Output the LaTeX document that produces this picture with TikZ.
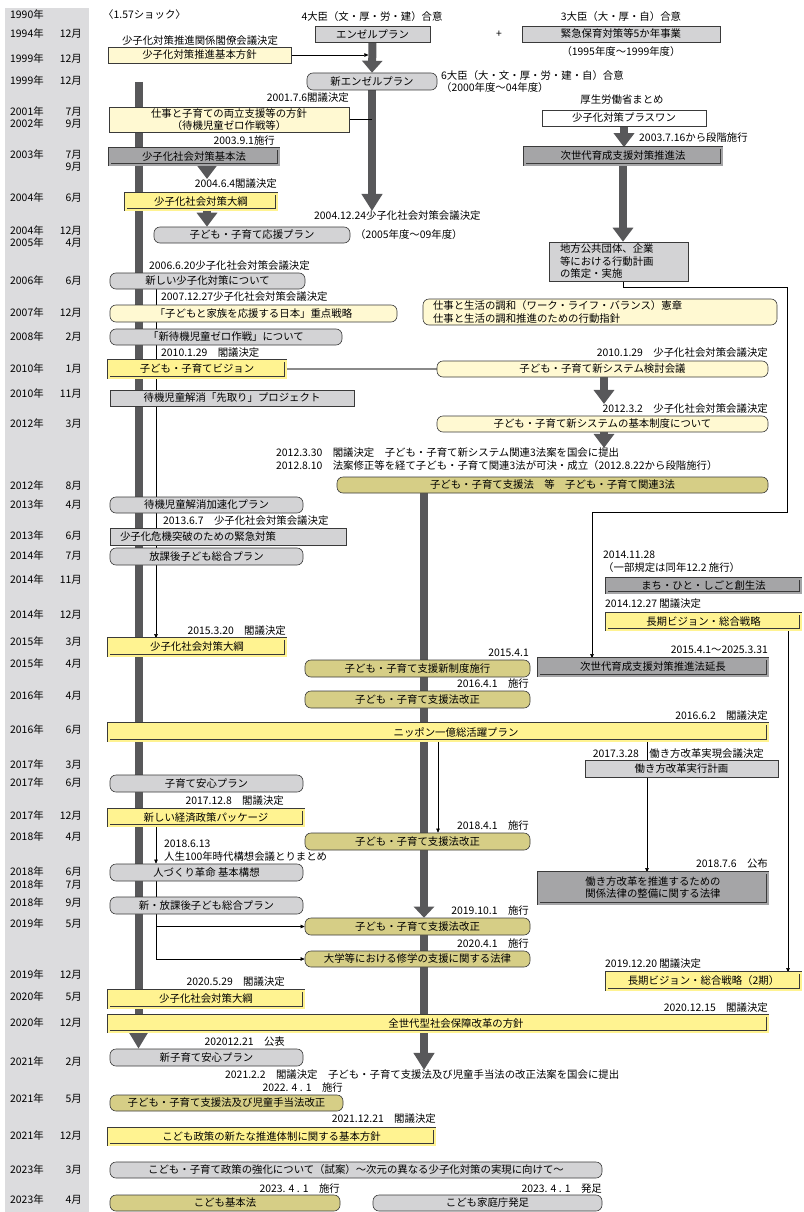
\documentclass[tikz,border=0pt]{standalone}
\usepackage{fontspec}
\setmainfont{Noto Sans CJK JP}
\usetikzlibrary{arrows.meta,backgrounds}

\definecolor{cyear}{HTML}{DCDCDE}
\definecolor{cbar}{HTML}{58585A}
\definecolor{cline}{HTML}{3A3A3A}
\definecolor{cgray}{HTML}{D3D3D5}
\definecolor{cdark}{HTML}{A5A5A7}
\definecolor{clight}{HTML}{FFF9D2}
\definecolor{cyel}{HTML}{FFF391}
\definecolor{colive}{HTML}{D6CE86}
\definecolor{clink}{HTML}{8A8A8A}

\begin{document}
\begin{tikzpicture}
    [x=1pt, y=-1pt, font=\fontsize{10.4}{12.5}\selectfont,
    lbl/.style={inner sep=0pt},
    sqbox/.style={draw=cline, line width=0.6pt, fill=#1, inner sep=0pt},
    rbox/.style={sqbox=#1, rounded corners=6pt},
    dbox/.style={draw=cline, line width=0.6pt, double=#1, double distance=2pt, fill=#1, inner sep=0pt},
    bigarrow/.style={line width=8pt, cbar, -{Triangle[width=20pt,length=14pt]}},
    thinline/.style={line width=0.6pt, black},
    thinarrow/.style={thinline, -{Triangle[width=3.6pt,length=4.2pt]}},
    linkline/.style={line width=1.3pt, clink}]

    \useasboundingbox (0,0) rectangle (803,1212);

    % columns the connectors run along
    \coordinate (leftbar) at (138.5,0);
    \coordinate (thinL) at (156,0);
    \coordinate (midbar) at (424,0);
    \coordinate (workx) at (647,0);
    \coordinate (rightx) at (788,0);
    \coordinate (enchoIn) at (592,0);
    \coordinate (barTop) at (138.5,82);

    % --- year column ---
    \begin{scope}[on background layer]
        \fill[cyear] (5,8) rectangle (89,1212);
    \end{scope}
    \foreach \yy/\yr/\mo in {15/1990年/, 34/1994年/12月, 59/1999年/12月, 81/1999年/12月,
        112/2001年/7月, 124/2002年/9月, 155/2003年/7月, 167//9月, 198/2004年/6月,
        231/2004年/12月, 243/2005年/4月, 281/2006年/6月, 313/2007年/12月, 337/2008年/2月,
        369/2010年/1月, 394/2010年/11月, 424/2012年/3月, 486/2012年/8月, 505/2013年/4月,
        536/2013年/6月, 556/2014年/7月, 580/2014年/11月, 615/2014年/12月, 642/2015年/3月,
        664/2015年/4月, 696/2016年/4月, 730/2016年/6月, 765/2017年/3月, 783/2017年/6月,
        816/2017年/12月, 837/2018年/4月, 872/2018年/6月, 885/2018年/7月, 903/2018年/9月,
        924/2019年/5月, 975/2019年/12月, 997/2020年/5月, 1023/2020年/12月, 1062/2021年/2月,
        1099/2021年/5月, 1136/2021年/12月, 1170/2023年/3月, 1200/2023年/4月} {
        \node[lbl, anchor=west] (yr\yy) at (10,\yy) {\yr};
        \node[lbl, anchor=east] (mo\yy) at (82,\yy) {\mo};
    }

    % --- 1990s ---
    \node[lbl, anchor=west] (shock) at (103,15) {〈1.57ショック〉};
    \node[lbl] (d4daijin) at (372,17) {4大臣（文・厚・労・建）合意};
    \node[sqbox=cgray, minimum width=115pt, minimum height=16pt] (angel) at (372.5,34) {エンゼルプラン};
    \node[lbl] (plus) at (499,34) {+};
    \node[lbl] (d3daijin) at (621,17) {3大臣（大・厚・自）合意};
    \node[sqbox=cgray, minimum width=198pt, minimum height=16pt] (emerg) at (621,34) {緊急保育対策等5か年事業};
    \node[lbl] (emergyr) at (621,52) {（1995年度〜1999年度）};

    \node[lbl] (dkakuryo) at (200,41) {少子化対策推進関係閣僚会議決定};
    \node[sqbox=clight, minimum width=183pt, minimum height=16pt] (kihon) at (199.5,55) {少子化対策推進基本方針};
    \node[rbox=cgray, minimum width=130pt, minimum height=17pt] (newangel) at (372,81.5) {新エンゼルプラン};
    \node[lbl, anchor=west, align=left, font=\fontsize{10.4}{11.5}\selectfont] (d6daijin) at (441,81.5)
        {6大臣（大・文・厚・労・建・自）合意\\（2000年度〜04年度）};

    % --- 2001 to 2005 ---
    \node[lbl, anchor=east] (d010706) at (349,98) {2001.7.6閣議決定};
    \node[sqbox=clight, minimum width=240pt, minimum height=25pt, align=center] (ryoritsu) at (229,119.5)
        {仕事と子育ての両立支援等の方針\\（待機児童ゼロ作戦等）};
    \node[lbl, anchor=east] (d030901) at (275,141) {2003.9.1施行};
    \node[dbox=cdark, minimum width=169pt, minimum height=16pt] (kihonho) at (194,156.5) {少子化社会対策基本法};
    \node[lbl, anchor=east] (d040604) at (277,184) {2004.6.4閣議決定};
    \node[dbox=cyel, minimum width=151pt, minimum height=16pt] (taiko04) at (201,201.5) {少子化社会対策大綱};
    \node[lbl, anchor=west] (d041224) at (314,216) {2004.12.24少子化社会対策会議決定};
    \node[rbox=cgray, minimum width=196pt, minimum height=16pt] (ouen) at (252,235) {子ども・子育て応援プラン};
    \node[lbl, anchor=west] (ouenyr) at (355,235) {（2005年度〜09年度）};

    \node[lbl] (dkosei) at (622,100) {厚生労働省まとめ};
    \node[sqbox=white, minimum width=164pt, minimum height=16pt] (plusone) at (624,118) {少子化対策プラスワン};
    \node[lbl, anchor=west] (d030716) at (639,138) {2003.7.16から段階施行};
    \node[dbox=cdark, minimum width=197pt, minimum height=17pt] (jisedai) at (623,156) {次世代育成支援対策推進法};
    \node[sqbox=cgray, minimum width=139pt, minimum height=39pt, inner xsep=11pt, text width=117pt, align=left] (chiho) at (618.5,261.5)
        {地方公共団体、企業\\等における行動計画\\の策定・実施};

    % --- 2006 to 2012 ---
    \node[lbl, anchor=west] (d060620) at (149,266) {2006.6.20少子化社会対策会議決定};
    \node[rbox=cgray, minimum width=195pt, minimum height=16pt] (atarashii) at (207.5,281) {新しい少子化対策について};
    \node[lbl, anchor=west] (d071227) at (161,297) {2007.12.27少子化社会対策会議決定};
    \node[rbox=clight, minimum width=287pt, minimum height=17pt] (juten) at (253.5,313.5) {「子どもと家族を応援する日本」重点戦略};
    \node[rbox=clight, minimum width=354pt, minimum height=26pt, inner xsep=10pt, text width=334pt, align=left] (wlb) at (600,312)
        {仕事と生活の調和（ワーク・ライフ・バランス）憲章\\仕事と生活の調和推進のための行動指針};
    \node[rbox=cgray, minimum width=232pt, minimum height=16pt] (zero) at (226,337) {「新待機児童ゼロ作戦」について};
    \node[lbl, anchor=west] (d100129) at (161,353) {2010.1.29　閣議決定};
    \node[dbox=cyel, minimum width=177pt, minimum height=17pt] (vision) at (197,369) {子ども・子育てビジョン};
    \node[lbl, anchor=east] (d100129b) at (768,353) {2010.1.29　少子化社会対策会議決定};
    \node[rbox=clight, minimum width=331pt, minimum height=16pt] (kentou) at (602.5,369) {子ども・子育て新システム検討会議};
    \node[sqbox=cgray, minimum width=244pt, minimum height=16pt] (sakidori) at (232,398) {待機児童解消「先取り」プロジェクト};
    \node[lbl, anchor=east] (d120302) at (768,409) {2012.3.2　少子化社会対策会議決定};
    \node[rbox=clight, minimum width=331pt, minimum height=16pt] (seido) at (602.5,424) {子ども・子育て新システムの基本制度について};
    \node[lbl, anchor=west, align=left, font=\fontsize{10.4}{13}\selectfont] (d3hou) at (276,459.5)
        {2012.3.30　閣議決定　子ども・子育て新システム関連3法案を国会に提出\\2012.8.10　法案修正等を経て子ども・子育て関連3法が可決・成立（2012.8.22から段階施行）};
    \node[rbox=colive, minimum width=431pt, minimum height=16pt] (shienho) at (552.5,485) {子ども・子育て支援法　等　子ども・子育て関連3法};

    % --- 2013 to 2016 ---
    \node[rbox=cgray, minimum width=193pt, minimum height=16pt] (kasoku) at (206.5,505) {待機児童解消加速化プラン};
    \node[lbl, anchor=west] (d130607) at (163,521) {2013.6.7　少子化社会対策会議決定};
    \node[sqbox=cgray, minimum width=236pt, minimum height=17pt, inner xsep=10pt, text width=216pt, align=left] (kinkyu) at (228,536.5)
        {少子化危機突破のための緊急対策};
    \node[rbox=cgray, minimum width=193pt, minimum height=17pt] (houkago) at (206.5,556.5) {放課後子ども総合プラン};
    \node[lbl, anchor=west, align=left] (d141128) at (603,561.5) {2014.11.28\\（一部規定は同年12.2 施行）};
    \node[dbox=cdark, minimum width=194pt, minimum height=14pt] (machi) at (703.5,585.5) {まち・ひと・しごと創生法};
    \node[lbl, anchor=west] (d141227) at (605,604) {2014.12.27 閣議決定};
    \node[dbox=cyel, minimum width=194pt, minimum height=16pt] (choki) at (703.5,621.5) {長期ビジョン・総合戦略};
    \node[lbl, anchor=east] (d150320) at (286,631) {2015.3.20　閣議決定};
    \node[dbox=cyel, minimum width=177pt, minimum height=17pt] (taiko15) at (197,647) {少子化社会対策大綱};
    \node[lbl, anchor=east] (d150401) at (529,653) {2015.4.1};
    \node[rbox=colive, minimum width=225pt, minimum height=17pt] (shinseido) at (417.5,668.5) {子ども・子育て支援新制度施行};
    \node[lbl, anchor=east] (d150401b) at (768,650) {2015.4.1〜2025.3.31};
    \node[dbox=cdark, minimum width=229pt, minimum height=17pt] (encho) at (653,667) {次世代育成支援対策推進法延長};
    \node[lbl, anchor=east] (d160401) at (529,684) {2016.4.1　施行};
    \node[rbox=colive, minimum width=225pt, minimum height=17pt] (kaisei16) at (417.5,699.5) {子ども・子育て支援法改正};
    \node[lbl, anchor=east] (d160602) at (768,716) {2016.6.2　閣議決定};
    \node[dbox=cyel, minimum width=659pt, minimum height=17pt] (nippon) at (438,732) {\hspace*{36pt}ニッポン一億総活躍プラン};

    % --- 2017 to 2020 ---
    \node[lbl, anchor=east] (d170328) at (764,754) {2017.3.28　働き方改革実現会議決定};
    \node[sqbox=cgray, minimum width=193pt, minimum height=17pt] (jikko) at (681.5,768.5) {働き方改革実行計画};
    \node[rbox=cgray, minimum width=193pt, minimum height=17pt] (anshin) at (206.5,783.5) {子育て安心プラン};
    \node[lbl, anchor=east] (d171208) at (284,801) {2017.12.8　閣議決定};
    \node[dbox=cyel, minimum width=195pt, minimum height=16pt] (package) at (206,817.5) {新しい経済政策パッケージ};
    \node[lbl, anchor=east] (d180401) at (529,826) {2018.4.1　施行};
    \node[rbox=colive, minimum width=225pt, minimum height=17pt] (kaisei18) at (417.5,841.5) {子ども・子育て支援法改正};
    \node[lbl, anchor=west, align=left] (d180613) at (164,850.5) {2018.6.13\\人生100年時代構想会議とりまとめ};
    \node[rbox=cgray, minimum width=193pt, minimum height=17pt] (hitozukuri) at (206.5,872.5) {人づくり革命 基本構想};
    \node[lbl, anchor=east] (d180706) at (768,864) {2018.7.6　公布};
    \node[dbox=cdark, minimum width=229pt, minimum height=31pt, align=center, font=\fontsize{10.4}{12}\selectfont] (hoseibi) at (653,888)
        {働き方改革を推進するための\\関係法律の整備に関する法律};
    \node[rbox=cgray, minimum width=193pt, minimum height=17pt] (shinhoukago) at (206.5,905.5) {新・放課後子ども総合プラン};
    \node[lbl, anchor=east] (d191001) at (529,911) {2019.10.1　施行};
    \node[rbox=colive, minimum width=225pt, minimum height=17pt] (kaisei19) at (417.5,926.5) {子ども・子育て支援法改正};
    \node[lbl, anchor=east] (d200401) at (529,944) {2020.4.1　施行};
    \node[rbox=colive, minimum width=225pt, minimum height=16pt] (daigaku) at (417.5,959) {大学等における修学の支援に関する法律};
    \node[lbl, anchor=west] (d191220) at (605,964) {2019.12.20 閣議決定};
    \node[dbox=cyel, minimum width=194pt, minimum height=17pt] (choki2) at (703.5,981) {長期ビジョン・総合戦略（2期）};
    \node[lbl, anchor=east] (d200529) at (285,982) {2020.5.29　閣議決定};
    \node[dbox=cyel, minimum width=195pt, minimum height=17pt] (taiko20) at (206,999) {少子化社会対策大綱};
    \node[lbl, anchor=east] (d201215) at (768,1008) {2020.12.15　閣議決定};
    \node[dbox=cyel, minimum width=659pt, minimum height=16pt] (zensedai) at (438,1023.5) {\hspace*{36pt}全世代型社会保障改革の方針};

    % --- 2020 to 2023 ---
    \node[lbl, anchor=east] (d201221) at (285,1042) {202012.21　公表};
    \node[rbox=cgray, minimum width=193pt, minimum height=17pt] (shinanshin) at (206.5,1057.5) {新子育て安心プラン};
    \node[lbl, anchor=west] (d210202) at (225,1075) {2021.2.2　閣議決定　子ども・子育て支援法及び児童手当法の改正法案を国会に提出};
    \node[lbl, anchor=east] (d220401) at (343,1088) {2022. 4 . 1　施行};
    \node[rbox=colive, minimum width=233pt, minimum height=16pt] (jidou) at (226.5,1103) {子ども・子育て支援法及び児童手当法改正};
    \node[lbl, anchor=east] (d211221) at (436,1119) {2021.12.21　閣議決定};
    \node[dbox=cyel, minimum width=326pt, minimum height=16pt] (kodomoseisaku) at (271.5,1136.5) {こども政策の新たな推進体制に関する基本方針};
    \node[rbox=cgray, minimum width=492pt, minimum height=16pt] (shian) at (356,1170)
        {こども・子育て政策の強化について（試案）〜次元の異なる少子化対策の実現に向けて〜};
    \node[lbl, anchor=east] (d230401a) at (340,1189) {2023. 4 . 1　施行};
    \node[rbox=colive, minimum width=230pt, minimum height=16pt] (kihonhou) at (225,1203) {こども基本法};
    \node[lbl, anchor=east] (d230401b) at (602,1189) {2023. 4 . 1　発足};
    \node[rbox=cgray, minimum width=229pt, minimum height=16pt] (katei) at (487.5,1203) {こども家庭庁発足};

    % --- connectors, behind the boxes ---
    \begin{scope}[on background layer]
        \draw[bigarrow, -{Triangle[width=20pt,length=18pt]}] (barTop) -- (shinanshin.north -| leftbar);
        \draw[bigarrow, -{Triangle[width=20pt,length=11pt]}] (shienho.south -| midbar) -- (kaisei19.north -| midbar);
        \draw[bigarrow, -{Triangle[width=20pt,length=17pt]}] (kaisei19.south -| midbar) -- (d210202.north -| midbar);

        \draw[bigarrow, -{Triangle[width=20pt,length=12pt]}] (angel.south) -- (newangel.north);
        \draw[bigarrow, -{Triangle[width=20pt,length=17pt]}] (newangel.south) -- (newangel.south |- d041224.north);
        \draw[bigarrow] ([xshift=13pt]kihonho.south) -- ([xshift=13pt]kihonho.south |- d040604.north);
        \draw[bigarrow] ([xshift=6pt]taiko04.south) -- ([xshift=6pt]taiko04.south |- ouen.north);
        \draw[bigarrow] (plusone.south) -- (jisedai.north -| plusone.south);
        \draw[bigarrow] (jisedai.south) -- (chiho.north -| jisedai.south);
        \draw[bigarrow] ([xshift=1.5pt]kentou.south) -- ([xshift=1.5pt]kentou.south |- d120302.north);
        \draw[bigarrow] ([xshift=1.5pt]seido.south) -- ([xshift=1.5pt]seido.south |- d3hou.north);

        \draw[thinarrow, shorten >=4pt] (kihon.east) -- (kihon.east -| angel.south);
        \draw[thinline] (ryoritsu.east) -- (ryoritsu.east -| newangel.south);
        \draw[linkline] (vision.east) -- (kentou.west);
        \draw[thinarrow] (atarashii.south -| thinL) -- (taiko15.north -| thinL);
        \draw[thinarrow] (chiho.south -| jisedai.south) -- ++(0,6) -| ++(164,225) -| (encho.north -| enchoIn);
        \draw[thinarrow] (choki.south -| rightx) -- (choki2.north -| rightx);
        \draw[thinarrow] (nippon.south) -- (kaisei18.north -| nippon.south);
        \draw[thinline] (nippon.south -| workx) -- (jikko.north -| workx);
        \draw[thinarrow] (jikko.south -| workx) -- (hoseibi.north -| workx);
        \draw[thinarrow] (package.south -| thinL) -- (hitozukuri.north -| thinL);
        \draw[thinarrow] (hitozukuri.south -| thinL) |- (kaisei19.west);
        \draw[thinarrow] (hitozukuri.south -| thinL) |- (daigaku.west);
    \end{scope}
\end{tikzpicture}
\end{document}
